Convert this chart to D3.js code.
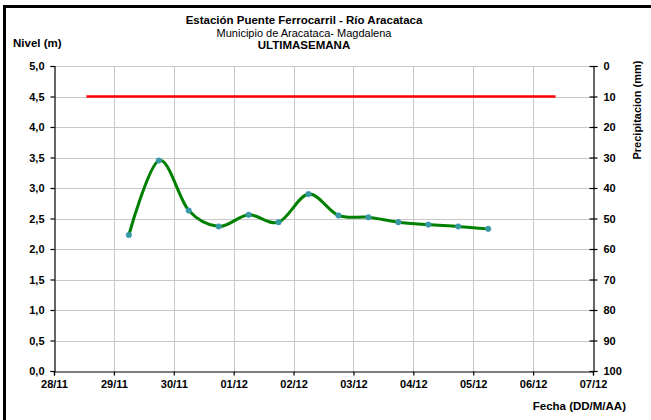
<!DOCTYPE html>
<html>
<head>
<meta charset="utf-8">
<script src="https://cdn.jsdelivr.net/npm/d3@7"></script>
<style>
  html, body { margin: 0; padding: 0; background: #fff; }
  svg { display: block; font-family: "Liberation Sans", Arial, sans-serif; }
</style>
</head>
<body>
<svg id="chart" width="651" height="420"></svg>
<script>
// ---- data ----
const xTickLabels = ["28/11","29/11","30/11","01/12","02/12","03/12","04/12","05/12","06/12","07/12"];
const levelTimes = [
  "2023-11-29T06:00","2023-11-29T18:00","2023-11-30T06:00","2023-11-30T18:00",
  "2023-12-01T06:00","2023-12-01T18:00","2023-12-02T06:00","2023-12-02T18:00",
  "2023-12-03T06:00","2023-12-03T18:00","2023-12-04T06:00","2023-12-04T18:00",
  "2023-12-05T06:00"
];
const levelValues = [2.23, 3.45, 2.63, 2.37, 2.56, 2.44, 2.90, 2.55, 2.52, 2.44, 2.40, 2.37, 2.33];
const alertTimes = ["2023-11-28T13:00", "2023-12-06T09:00"];
const alertValues = [4.5, 4.5];
const levelTicks = [0,0.5,1,1.5,2,2.5,3,3.5,4,4.5,5];
const precipTicks = [0,10,20,30,40,50,60,70,80,90,100];

// ---- layout ----
const svg = d3.select("#chart");
const L = 54, R = 593, T = 66, B = 371;
const parse = d3.timeParse("%Y-%m-%dT%H:%M");

// border frame
svg.append("rect").attr("x", 4.5).attr("y", 6.5).attr("width", 660).attr("height", 430)
  .attr("fill", "none").attr("stroke", "#000").attr("stroke-width", 3);

const x = d3.scaleTime().domain([parse("2023-11-28T00:00"), parse("2023-12-07T00:00")]).range([L, R]);
const y = d3.scaleLinear().domain([0, 5]).range([B, T]);
const y2 = d3.scaleLinear().domain([0, 100]).range([T, B]);
const dayTicks = d3.timeDay.range(parse("2023-11-28T00:00"), parse("2023-12-07T01:00"));

// grid
const g = svg.append("g");
g.selectAll(".vg").data(dayTicks.slice(1, -1)).join("line")
  .attr("x1", d => Math.round(x(d)) + 0.5).attr("x2", d => Math.round(x(d)) + 0.5)
  .attr("y1", T).attr("y2", B).attr("stroke", "#c8c8c8").attr("stroke-width", 1);
g.selectAll(".hg").data(levelTicks.slice(1)).join("line")
  .attr("x1", L).attr("x2", R)
  .attr("y1", d => Math.round(y(d)) + 0.5).attr("y2", d => Math.round(y(d)) + 0.5)
  .attr("stroke", "#c8c8c8").attr("stroke-width", 1);

// axes
const fmtComma = d => d3.format(".1f")(d).replace(".", ",");
const axL = svg.append("g").attr("transform", `translate(${L + 0.5},0)`)
  .call(d3.axisLeft(y).tickValues(levelTicks).tickFormat(fmtComma).tickSizeOuter(0).tickSize(4).tickPadding(6));
const axR = svg.append("g").attr("transform", `translate(${R + 0.5},0)`)
  .call(d3.axisRight(y2).tickValues(precipTicks).tickSizeOuter(0).tickSize(4).tickPadding(6));
axR.selectAll(".tick line").attr("x1", -4);
const axB = svg.append("g").attr("transform", `translate(0,${B + 0.5})`)
  .call(d3.axisBottom(x).tickValues(dayTicks).tickFormat((d, i) => xTickLabels[i]).tickSizeOuter(0).tickSize(4).tickPadding(5));
[axL, axR, axB].forEach(a => {
  a.selectAll("path, line").attr("stroke", "#000").attr("stroke-width", 1.2);
  a.selectAll("text").attr("font-size", 11).attr("font-weight", "bold").attr("fill", "#000")
    .attr("font-family", "Liberation Sans, Arial, sans-serif");
});

// alert line
const line = d3.line().x(d => x(d[0])).y(d => y(d[1]));
svg.append("path")
  .datum(alertTimes.map((t, i) => [parse(t), alertValues[i]]))
  .attr("d", line).attr("fill", "none").attr("stroke", "#ff0000").attr("stroke-width", 2.5);

// level series
const lvl = levelTimes.map((t, i) => [parse(t), levelValues[i]]);
svg.append("path").datum(lvl)
  .attr("d", line.curve(d3.curveCardinal.tension(0)))
  .attr("fill", "none").attr("stroke", "#008000").attr("stroke-width", 3);
svg.selectAll(".pt").data(lvl).join("circle")
  .attr("cx", d => x(d[0])).attr("cy", d => y(d[1])).attr("r", 2.8)
  .attr("fill", "#339c9c").attr("stroke", "#4a90c8").attr("stroke-width", 0.5);

// texts
const txt = (s, xx, yy, opts = {}) => svg.append("text").text(s)
  .attr("x", xx).attr("y", yy)
  .attr("font-size", opts.size || 11)
  .attr("font-weight", opts.weight || "bold")
  .attr("text-anchor", opts.anchor || "middle")
  .attr("fill", "#000");

txt("Estación Puente Ferrocarril - Río Aracataca", 304, 24, { size: 11.5 });
txt("Municipio de Aracataca- Magdalena", 304, 37, { size: 11, weight: "normal" });
txt("ULTIMASEMANA", 304, 49, { size: 11.5 });
txt("Nivel (m)", 13, 47, { anchor: "start", size: 11.5 });
txt("Fecha (DD/M/AA)", 626, 410, { anchor: "end", size: 11.5 });
svg.append("text").text("Precipitacion (mm)")
  .attr("transform", "translate(641,110) rotate(-90)")
  .attr("text-anchor", "middle").attr("font-size", 11).attr("font-weight", "bold").attr("fill", "#000");
</script>
</body>
</html>
